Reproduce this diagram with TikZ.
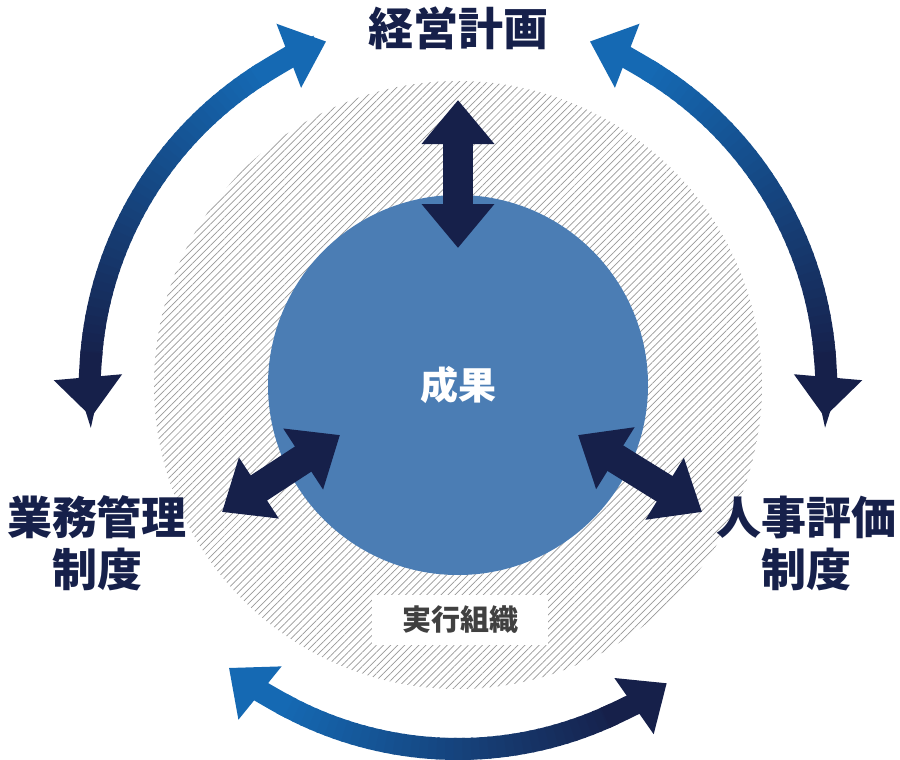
\documentclass[tikz,border=0pt]{standalone}
\usepackage{fontspec}
\setmainfont{Noto Sans CJK JP}
\usetikzlibrary{arrows.meta,patterns.meta}
\definecolor{navy}{HTML}{16204A}
\definecolor{lblue}{HTML}{1569B3}
\definecolor{core}{HTML}{4B7DB4}
\tikzset{
  bigarrow/.style={line width=30pt,navy,{Triangle[length=44pt,width=70pt]}-{Triangle[length=44pt,width=70pt]}},
  arctip/.style={line width=22pt,-{Triangle[length=40pt,width=66pt]}},
  label/.style={font=\bfseries\fontsize{45}{52}\selectfont,text=navy,align=center}
}
\newcommand{\gradarc}[5]{% body from #1 (blue) to #2 (navy), radius #3, tips at #4 and #5
  \foreach \i in {0,...,39} {
    \pgfmathsetmacro\aa{#1+(#2-#1)*\i/40}
    \pgfmathsetmacro\ab{#1+(#2-#1)*(\i+1.3)/40}
    \pgfmathsetmacro\pp{100-2.5*\i}
    \draw[line width=22pt,color=lblue!\pp!navy] (mid) ++(\aa:#3) arc[start angle=\aa,end angle=\ab,radius=#3];
  }
  \pgfmathsetmacro\sa{#1+(#2-#1)*0.02}
  \pgfmathsetmacro\ea{#2-(#2-#1)*0.02}
  \draw[arctip,lblue] (mid) ++(\sa:#3) arc[start angle=\sa,end angle=#4,radius=#3];
  \draw[arctip,navy] (mid) ++(\ea:#3) arc[start angle=\ea,end angle=#5,radius=#3];
}
\begin{document}
\begin{tikzpicture}[x=1pt,y=1pt]
\useasboundingbox[fill=white] (0,0) rectangle (900,-760);

\coordinate (mid) at (458,-385);

% outer ring of the organisation
\fill[pattern={Lines[angle=45,distance=5pt,line width=0.7pt]},pattern color=gray!80] (mid) circle[radius=304];
\fill[core] (mid) circle[radius=190];
\node[font=\bfseries\fontsize{38}{44}\selectfont,text=white] (result) at (mid) {成果};
\node[fill=white,minimum width=176pt,minimum height=50pt,font=\bfseries\fontsize{29}{34}\selectfont,text=black!75] (org) at (460,-620) {実行組織};

% labels
\node[label] (plan) at (458,-28) {経営計画};
\node[label] (ops) at (97,-543) {業務管理\\制度};
\node[label] (hr) at (806,-543) {人事評価\\制度};

% arrows to the core
\coordinate (t1) at (458,-100);
\coordinate (t2) at (458,-248);
\coordinate (l1) at (222,-512);
\coordinate (l2) at (340,-435);
\coordinate (r1) at (578,-435);
\coordinate (r2) at (702,-512);
\draw[bigarrow] (t1) -- (t2);
\draw[bigarrow] (l1) -- (l2);
\draw[bigarrow] (r1) -- (r2);

% curved arrows between the plans
\gradarc{122}{176}{368}{111}{185}
\gradarc{59}{4}{368}{69}{-5}
\gradarc{241}{295}{364}{231}{305}

\end{tikzpicture}
\end{document}
